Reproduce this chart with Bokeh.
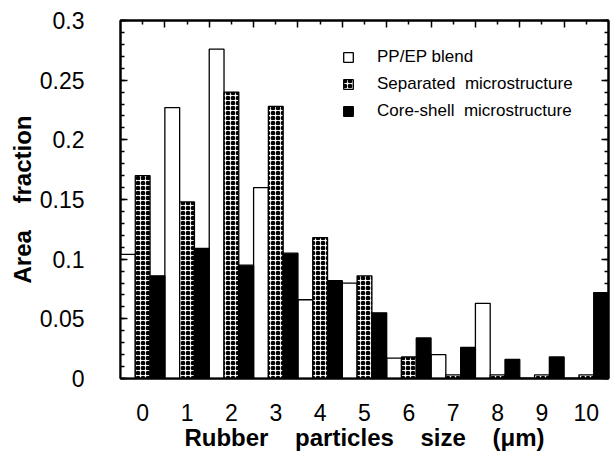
from bokeh.plotting import figure
from bokeh.models import (ColumnDataSource, Range1d, FixedTicker, LinearAxis,
                          Legend, LegendItem)
from bokeh.transform import dodge
from bokeh.embed import file_html
from bokeh.resources import INLINE

# ---- data ----
sizes = [0, 1, 2, 3, 4, 5, 6, 7, 8, 9, 10]
pp_ep_blend = [0.104, 0.227, 0.276, 0.160, 0.066, 0.080, 0.017, 0.020, 0.063, 0.0, 0.0]
separated = [0.170, 0.148, 0.240, 0.228, 0.118, 0.086, 0.018, 0.003, 0.003, 0.003, 0.003]
core_shell = [0.086, 0.109, 0.095, 0.105, 0.082, 0.055, 0.034, 0.026, 0.016, 0.018, 0.072]
NB2 = "\u00a0\u00a0"
NB4 = "\u00a0\u00a0\u00a0\u00a0"
series_names = ["PP/EP blend", "Separated" + NB2 + "microstructure",
                "Core-shell" + NB2 + "microstructure"]
y_ticks = [0, 0.05, 0.1, 0.15, 0.2, 0.25, 0.3]
y_tick_labels = ["0", "0.05", "0.1", "0.15", "0.2", "0.25", "0.3"]
x_label = "Rubber" + NB4 + "particles" + NB4 + "size" + NB4 + "(\u03bcm)"
y_label = "Area" + NB4 + "fraction"

FONT = "Liberation Sans"

src = ColumnDataSource(dict(size=sizes, pp=pp_ep_blend, sep=separated, core=core_shell))

p = figure(width=614, height=459, output_backend="svg", toolbar_location=None,
           x_range=Range1d(-0.5, 10.5), y_range=Range1d(0, 0.3),
           min_border_left=120, min_border_right=6, min_border_top=20,
           min_border_bottom=81, x_axis_location=None, y_axis_location=None)
p.grid.visible = False
p.outline_line_color = "black"
p.outline_line_width = 2
p.background_fill_color = "white"
p.border_fill_color = "white"

w = 1 / 3
r_pp = p.vbar(x=dodge("size", -w, range=p.x_range), top="pp", width=w, source=src,
              fill_color="white", line_color="black", line_width=1.3)
r_sep = p.vbar(x=dodge("size", 0, range=p.x_range), top="sep", width=w, source=src,
               fill_color="white", line_color="black", line_width=1.3,
               hatch_pattern="ring", hatch_color="black", hatch_scale=5, hatch_weight=2.2)
r_core = p.vbar(x=dodge("size", w, range=p.x_range), top="core", width=w, source=src,
                fill_color="black", line_color="black", line_width=1.3)

# axes
yticker = FixedTicker(ticks=y_ticks, minor_ticks=[i / 100 for i in range(0, 31)])
overrides = {t: s for t, s in zip(y_ticks, y_tick_labels)}

left = LinearAxis(ticker=yticker, major_label_overrides=overrides, axis_label=y_label)
right = LinearAxis(ticker=yticker, major_label_text_alpha=0)
bottom = LinearAxis(ticker=FixedTicker(ticks=sizes), axis_label=x_label)
top = LinearAxis(ticker=FixedTicker(ticks=[s + 0.5 for s in sizes[:-1]],
                                    minor_ticks=sizes), major_label_text_alpha=0)

for ax in (left, right, top, bottom):
    ax.axis_line_width = 2
    ax.major_tick_in = 7
    ax.major_tick_out = 0
    ax.minor_tick_in = 4
    ax.minor_tick_out = 0
    ax.major_tick_line_width = 1.5
    ax.minor_tick_line_width = 1.5
    ax.major_label_text_font = FONT
    ax.major_label_text_font_size = "23px"
    ax.major_label_text_color = "black"
    ax.axis_label_text_font = FONT
    ax.axis_label_text_font_style = "bold"
    ax.axis_label_text_font_size = "24px"
    ax.axis_label_text_color = "black"

bottom.major_tick_in = 0
bottom.minor_tick_in = 0
bottom.major_label_standoff = 25
bottom.axis_label_standoff = 0
left.major_label_standoff = 36
left.axis_label_standoff = 1
right.major_label_text_font_size = "1px"
top.major_label_text_font_size = "1px"
right.major_label_standoff = 0
top.major_label_standoff = 0

p.add_layout(left, "left")
p.add_layout(right, "right")
p.add_layout(bottom, "below")
p.add_layout(top, "above")

legend = Legend(items=[LegendItem(label=series_names[0], renderers=[r_pp]),
                       LegendItem(label=series_names[1], renderers=[r_sep]),
                       LegendItem(label=series_names[2], renderers=[r_core])],
                location=(222, 257), padding=0, margin=0, spacing=7,
                label_height=20, glyph_height=12, glyph_width=12, label_standoff=23,
                border_line_alpha=0, background_fill_alpha=0,
                label_text_font=FONT, label_text_font_size="17px",
                label_text_color="black")
p.add_layout(legend, "center")

open("out.html", "w").write(file_html(p, INLINE))
